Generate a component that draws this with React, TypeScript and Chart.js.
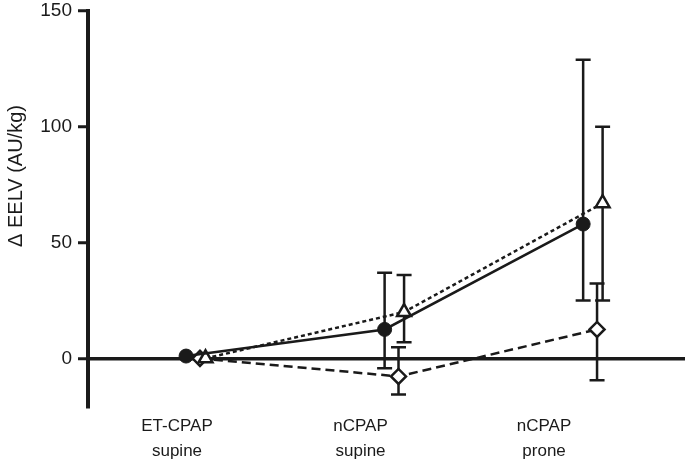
import React, { useEffect, useRef } from "react";
import { Chart, registerables } from "chart.js";

Chart.register(...registerables);

// ---- data ----
const categories: string[][] = [
  ["ET-CPAP", "supine"],
  ["nCPAP", "supine"],
  ["nCPAP", "prone"],
];
const yTicks = [0, 50, 100, 150];
const yTitle = "\u0394 EELV (AU/kg)";

const circleMean = [1, 12.5, 58];
const circleUpper = [1, 37, 129];
const circleLower = [1, -4.3, 25];

const triangleMean = [0, 20, 67];
const triangleUpper = [0, 36, 100];
const triangleLower = [0, 7, 25];

const diamondMean = [0, -7.8, 12.5];
const diamondUpper = [0, 4.8, 32.3];
const diamondLower = [0, -15.6, -9.5];

// ---- layout / style ----
const INK = "#1a1a1a";
const FONT = "'Liberation Sans', Arial, Helvetica, sans-serif";
const offsetCircle = -0.07;
const offsetDiamond = 0;
const offsetTriangle = 0.028;

const errorBarPlugin = {
  id: "errorBars",
  beforeDatasetsDraw(chart: any) {
    const ctx = chart.ctx;
    const yScale = chart.scales.y;
    ctx.save();
    ctx.strokeStyle = INK;
    ctx.lineWidth = 2.5;
    ctx.setLineDash([]);
    chart.data.datasets.forEach((ds: any, i: number) => {
      const meta = chart.getDatasetMeta(i);
      meta.data.forEach((pt: any, j: number) => {
        const up = ds.errUpper[j];
        const lo = ds.errLower[j];
        if (up === lo) return;
        const x = pt.x;
        const yU = yScale.getPixelForValue(up);
        const yL = yScale.getPixelForValue(lo);
        const cap = 7.5;
        ctx.beginPath();
        ctx.moveTo(x, yU);
        ctx.lineTo(x, yL);
        ctx.moveTo(x - cap, yU);
        ctx.lineTo(x + cap, yU);
        ctx.moveTo(x - cap, yL);
        ctx.lineTo(x + cap, yL);
        ctx.stroke();
      });
    });
    ctx.restore();
  },
};

const titlePlugin = {
  id: "yTitle",
  afterDraw(chart: any) {
    const ctx = chart.ctx;
    ctx.save();
    ctx.translate(16, 176);
    ctx.rotate(-Math.PI / 2);
    ctx.font = `20px ${FONT}`;
    ctx.fillStyle = INK;
    ctx.textAlign = "center";
    ctx.textBaseline = "middle";
    ctx.fillText(yTitle, 0, 0);
    ctx.restore();
  },
};

export default function App() {
  const canvasRef = useRef<HTMLCanvasElement | null>(null);

  useEffect(() => {
    if (!canvasRef.current) return;
    const mk = (arr: number[], off: number) =>
      arr.map((v, i) => ({ x: i + off, y: v }));

    const chart = new Chart(canvasRef.current, {
      type: "line",
      data: {
        datasets: [
          {
            label: "circle",
            data: mk(circleMean, offsetCircle),
            errUpper: circleUpper,
            errLower: circleLower,
            borderColor: INK,
            borderWidth: 2.5,
            pointStyle: "circle",
            pointRadius: 7,
            pointBackgroundColor: INK,
            pointBorderColor: INK,
            pointBorderWidth: 1,
            xAxisID: "x",
          } as any,
          {
            label: "triangle",
            data: mk(triangleMean, offsetTriangle),
            errUpper: triangleUpper,
            errLower: triangleLower,
            borderColor: INK,
            borderWidth: 2.5,
            borderDash: [4, 3],
            pointStyle: "triangle",
            pointRadius: 8,
            pointBackgroundColor: "#ffffff",
            pointBorderColor: INK,
            pointBorderWidth: 2.5,
            xAxisID: "x",
          } as any,
          {
            label: "diamond",
            data: mk(diamondMean, offsetDiamond),
            errUpper: diamondUpper,
            errLower: diamondLower,
            borderColor: INK,
            borderWidth: 2.5,
            borderDash: [9, 5],
            pointStyle: "rectRot",
            pointRadius: 7.5,
            pointBackgroundColor: "#ffffff",
            pointBorderColor: INK,
            pointBorderWidth: 2.5,
            xAxisID: "x",
          } as any,
        ],
      },
      options: {
        responsive: false,
        animation: false,
        devicePixelRatio: 1,
        layout: {
          autoPadding: false,
          padding: { top: 11, left: 0, right: 0, bottom: 0 },
        },
        plugins: {
          legend: { display: false },
          tooltip: { enabled: false },
        },
        scales: {
          x: {
            type: "linear",
            display: false,
            min: -0.564,
            max: 2.443,
          },
          xl: {
            type: "linear",
            position: "bottom",
            min: -0.485,
            max: 2.768,
            grid: { display: false, drawTicks: false },
            border: { display: false },
            afterBuildTicks: (s: any) => {
              s.ticks = categories.map((_, i) => ({ value: i }));
            },
            afterFit: (s: any) => {
              s.height = 53;
              s.paddingLeft = 0;
              s.paddingRight = 0;
            },
            ticks: {
              autoSkip: false,
              maxRotation: 0,
              padding: 7,
              color: INK,
              font: { family: FONT, size: 17, lineHeight: 1.45 },
              callback: (v: any) => categories[v as number],
            },
          },
          y: {
            type: "linear",
            min: -21,
            max: 150,
            afterBuildTicks: (s: any) => {
              s.ticks = yTicks.map((v) => ({ value: v }));
            },
            afterFit: (s: any) => {
              s.width = 88;
              s.paddingTop = 0;
              s.paddingBottom = 0;
            },
            border: { display: true, width: 4, color: INK },
            grid: {
              color: (c: any) =>
                c.tick && c.tick.value === 0 ? INK : "rgba(0,0,0,0)",
              lineWidth: 3.5,
              tickColor: INK,
              tickLength: 10,
              tickWidth: 3,
            },
            ticks: {
              padding: 6,
              color: INK,
              font: { family: FONT, size: 19 },
            },
          },
        },
      } as any,
      plugins: [errorBarPlugin, titlePlugin],
    });
    return () => chart.destroy();
  }, []);

  return (
    <div
      style={{
        position: "absolute",
        left: 0,
        top: 0,
        width: 685,
        height: 460,
        background: "#ffffff",
      }}
    >
      <canvas ref={canvasRef} width={685} height={460} />
    </div>
  );
}
